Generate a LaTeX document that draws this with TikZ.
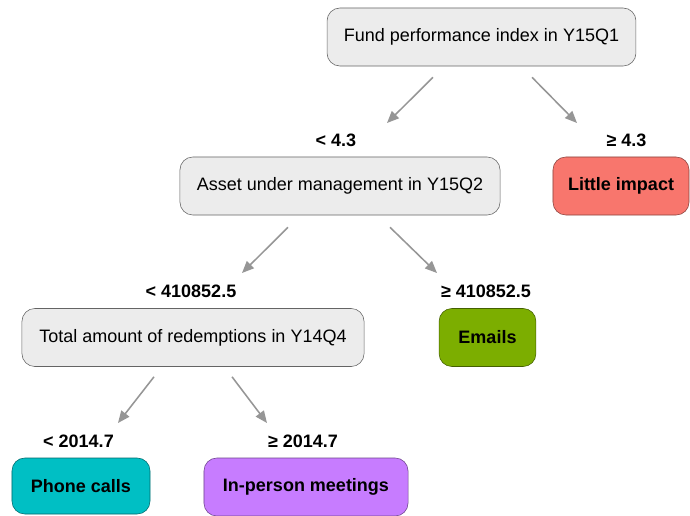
\documentclass[tikz,border=0pt]{standalone}
\usepackage{fontspec}
\setmainfont{Liberation Sans}
\usepackage{tikz}
\usetikzlibrary{arrows.meta, positioning, calc}
\definecolor{splitfill}{RGB}{236,236,236}
\definecolor{splitline}{RGB}{100,100,100}
\definecolor{arrowgray}{RGB}{150,150,150}
\definecolor{impactcolor}{RGB}{248,118,109}
\definecolor{emailcolor}{RGB}{124,174,0}
\definecolor{phonecolor}{RGB}{0,191,196}
\definecolor{meetcolor}{RGB}{199,124,255}

\begin{document}
\begin{tikzpicture}[
    x=0.025cm, y=-0.025cm,
    split/.style={draw=splitline, fill=splitfill, rounded corners=0.32cm, minimum height=1.45cm, font=\fontsize{12.8}{15}\selectfont},
    leaf/.style={draw=#1!55!black, fill=#1, rounded corners=0.32cm, minimum height=1.45cm, font=\fontsize{12.8}{15}\selectfont\bfseries},
    cond/.style={font=\fontsize{12.8}{15}\selectfont\bfseries},
    arrow/.style={-{Triangle[length=0.3cm, width=0.25cm]}, draw=arrowgray, line width=1.1pt}
]
    \useasboundingbox (0,0) rectangle (690,515);

    % Splits
    \node[split, minimum width=7.72cm] (fund) at (481.5,37) {Fund performance index in Y15Q1};
    \node[split, minimum width=8cm] (asset) at (340,186) {Asset under management in Y15Q2};
    \node[split, minimum width=8.55cm] (redeem) at (193,337.5) {Total amount of redemptions in Y14Q4};

    % Leaves
    \node[leaf=impactcolor, minimum width=3.4cm] (impact) at (621,186) {Little impact};
    \node[leaf=emailcolor, minimum width=2.42cm] (emails) at (487.5,337.5) {Emails};
    \node[leaf=phonecolor, minimum width=3.45cm, minimum height=1.4cm] (phone) at (81,486) {Phone calls};
    \node[leaf=meetcolor, minimum width=5.1cm] (meet) at (306,487) {In-person meetings};

    % Conditions
    \node[cond] (lowfund) at (336,140) {< 4.3};
    \node[cond] (highfund) at (626.5,140) {≥ 4.3};
    \node[cond] (lowasset) at (191,291) {< 410852.5};
    \node[cond] (highasset) at (486,291) {≥ 410852.5};
    \node[cond] (lowredeem) at (78.5,441) {< 2014.7};
    \node[cond] (highredeem) at (303,441) {≥ 2014.7};

    % Branches
    \draw[arrow] ([shift={(-48.5,11)}]fund.south) -- ([shift={(51,-17)}]lowfund.center);
    \draw[arrow] ([shift={(50.5,11)}]fund.south) -- ([shift={(-49.5,-17)}]highfund.center);
    \draw[arrow] ([shift={(-52,12)}]asset.south) -- ([shift={(51,-18)}]lowasset.center);
    \draw[arrow] ([shift={(50,12)}]asset.south) -- ([shift={(-49,-18)}]highasset.center);
    \draw[arrow] ([shift={(-39,10)}]redeem.south) -- ([shift={(39.5,-18)}]lowredeem.center);
    \draw[arrow] ([shift={(39,10)}]redeem.south) -- ([shift={(-36,-18)}]highredeem.center);
\end{tikzpicture}
\end{document}
